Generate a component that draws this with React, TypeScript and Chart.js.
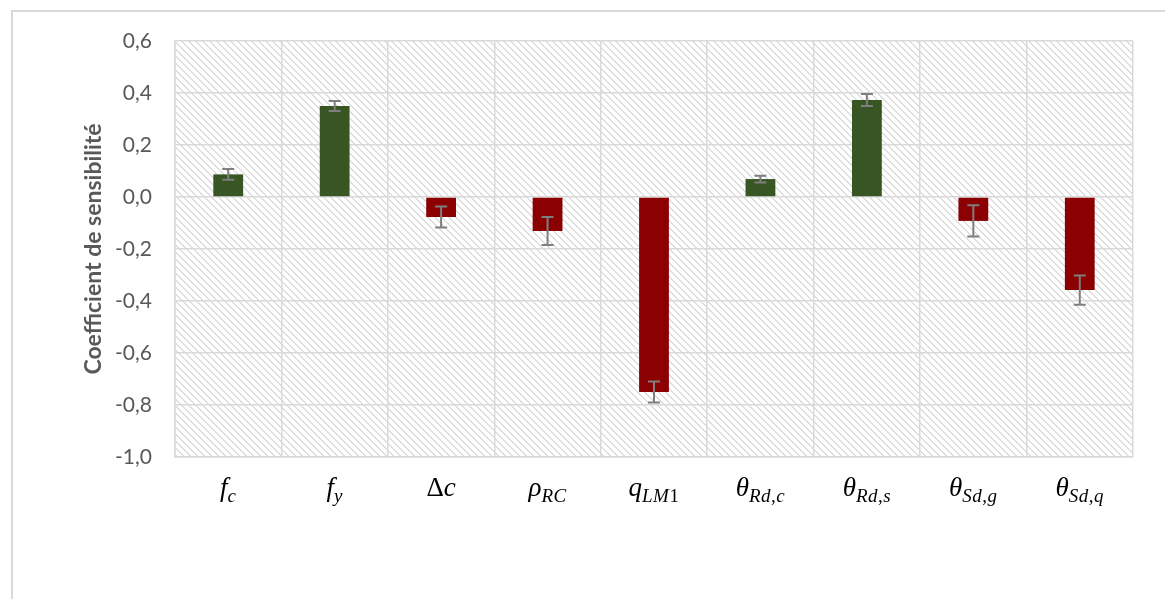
import React, { useEffect, useRef } from "react";
import { Chart, registerables } from "chart.js";

Chart.register(...registerables);

// ---- data ----
const categories = ["f_c", "f_y", "Δc", "ρ_RC", "q_LM1", "θ_Rd,c", "θ_Rd,s", "θ_Sd,g", "θ_Sd,q"];
const labelMain = ["f", "f", "Δc", "ρ", "q", "θ", "θ", "θ", "θ"];
const labelSub = ["c", "y", "", "RC", "LM1", "Rd,c", "Rd,s", "Sd,g", "Sd,q"];
const values = [0.087, 0.35, -0.077, -0.131, -0.75, 0.069, 0.373, -0.092, -0.358];
const errors = [0.021, 0.019, 0.04, 0.054, 0.04, 0.013, 0.023, 0.06, 0.056];
const yMin = -1.0;
const yMax = 0.6;
const yStep = 0.2;
const yTitle = "Coefficient de sensibilité";

const GREEN = "#375623";
const RED = "#8b0000";
const GRID = "#d9d9d9";
const TEXT = "#595959";

function makePattern(ctx: CanvasRenderingContext2D) {
  const s = 7;
  const c = document.createElement("canvas");
  c.width = s;
  c.height = s;
  const g = c.getContext("2d")!;
  g.fillStyle = "#ffffff";
  g.fillRect(0, 0, s, s);
  g.fillStyle = "#dedede";
  for (let i = 0; i < s; i++) {
    g.fillRect(i, i, 1, 1);
    g.fillRect((i + 1) % s, i, 1, 1);
  }
  return ctx.createPattern(c, "repeat");
}

const MATH_FONT = "'Liberation Serif', 'DejaVu Serif', serif";

function segFont(ch: string, size: number) {
  const italic = /[A-Za-z\u03b1-\u03c9]/.test(ch);
  return `${italic ? "italic " : ""}${size}px ${MATH_FONT}`;
}

function drawMathLabel(ctx: CanvasRenderingContext2D, cx: number, baseline: number, main: string, sub: string) {
  const mainSize = 27;
  const subSize = 19;
  const subDrop = 6;
  const parts: { ch: string; size: number; dy: number; w: number }[] = [];
  for (const ch of main) {
    ctx.font = segFont(ch, mainSize);
    parts.push({ ch, size: mainSize, dy: 0, w: ctx.measureText(ch).width });
  }
  for (const ch of sub) {
    ctx.font = segFont(ch, subSize);
    parts.push({ ch, size: subSize, dy: subDrop, w: ctx.measureText(ch).width + 0.5 });
  }
  const total = parts.reduce((a, p) => a + p.w, 0);
  let x = cx - total / 2;
  ctx.fillStyle = "#000000";
  ctx.textBaseline = "alphabetic";
  ctx.textAlign = "left";
  for (const p of parts) {
    ctx.font = segFont(p.ch, p.size);
    ctx.fillText(p.ch, x, baseline + p.dy);
    x += p.w;
  }
}

const decorPlugin = {
  id: "decor",
  beforeDraw(chart: any) {
    const { ctx, chartArea } = chart;
    ctx.save();
    ctx.fillStyle = makePattern(ctx) as any;
    ctx.fillRect(chartArea.left, chartArea.top, chartArea.right - chartArea.left, chartArea.bottom - chartArea.top);
    ctx.restore();
  },
  afterDatasetsDraw(chart: any) {
    const { ctx } = chart;
    const meta = chart.getDatasetMeta(0);
    const y = chart.scales.y;
    ctx.save();
    ctx.strokeStyle = "#7f7f7f";
    ctx.lineWidth = 2;
    meta.data.forEach((bar: any, i: number) => {
      const x = bar.x;
      const y1 = y.getPixelForValue(values[i] + errors[i]);
      const y2 = y.getPixelForValue(values[i] - errors[i]);
      const cap = 6;
      ctx.beginPath();
      ctx.moveTo(x, y1);
      ctx.lineTo(x, y2);
      ctx.moveTo(x - cap, y1);
      ctx.lineTo(x + cap, y1);
      ctx.moveTo(x - cap, y2);
      ctx.lineTo(x + cap, y2);
      ctx.stroke();
    });
    ctx.restore();
  },
  afterDraw(chart: any) {
    const { ctx } = chart;
    const xs = chart.scales.x;
    ctx.save();
    categories.forEach((_c, i) => {
      drawMathLabel(ctx, xs.getPixelForValue(i), 496, labelMain[i], labelSub[i]);
    });
    ctx.restore();
  },
};

export default function App() {
  const ref = useRef<HTMLCanvasElement>(null);
  useEffect(() => {
    if (!ref.current) return;
    const chart = new Chart(ref.current, {
      type: "bar",
      data: {
        labels: categories,
        datasets: [
          {
            data: values,
            backgroundColor: values.map((v) => (v >= 0 ? GREEN : RED)),
            borderWidth: 0,
            categoryPercentage: 1,
            barPercentage: 0.28,
          },
        ],
      },
      options: {
        responsive: false,
        animation: false,
        layout: { padding: { top: 41, right: 32, left: 0, bottom: 0 } },
        plugins: { legend: { display: false }, tooltip: { enabled: false } },
        scales: {
          x: {
            grid: { color: GRID, lineWidth: 1.5, drawTicks: false, offset: true },
            border: { color: GRID, width: 1.5 },
            ticks: { display: false },
            afterFit: (s: any) => {
              s.height = 142;
            },
          },
          y: {
            min: yMin,
            max: yMax,
            grid: { color: GRID, lineWidth: 1.5, drawTicks: false },
            border: { color: GRID, width: 1.5 },
            ticks: {
              stepSize: yStep,
              padding: 23,
              color: TEXT,
              font: { family: "Lato, 'Open Sans', sans-serif", size: 21 },
              callback: (v: any) => Number(v).toFixed(1).replace(".", ","),
            },
            title: {
              display: true,
              text: yTitle,
              color: TEXT,
              font: { family: "Lato, 'Open Sans', sans-serif", size: 23, weight: "bold" },
              padding: { top: 80, bottom: 0 },
            },
            afterFit: (s: any) => {
              s.width = 175;
            },
          },
        },
      },
      plugins: [decorPlugin],
    });
    return () => chart.destroy();
  }, []);

  return (
    <div style={{ position: "fixed", left: 0, top: 0, width: 1165, height: 599, overflow: "hidden", background: "#fff" }}>
      <div
        style={{
          position: "absolute",
          left: 11,
          top: 10,
          width: 1300,
          height: 800,
          border: "2px solid #d9d9d9",
        }}
      />
      <canvas ref={ref} width={1165} height={599} style={{ position: "absolute", left: 0, top: 0 }} />
    </div>
  );
}
